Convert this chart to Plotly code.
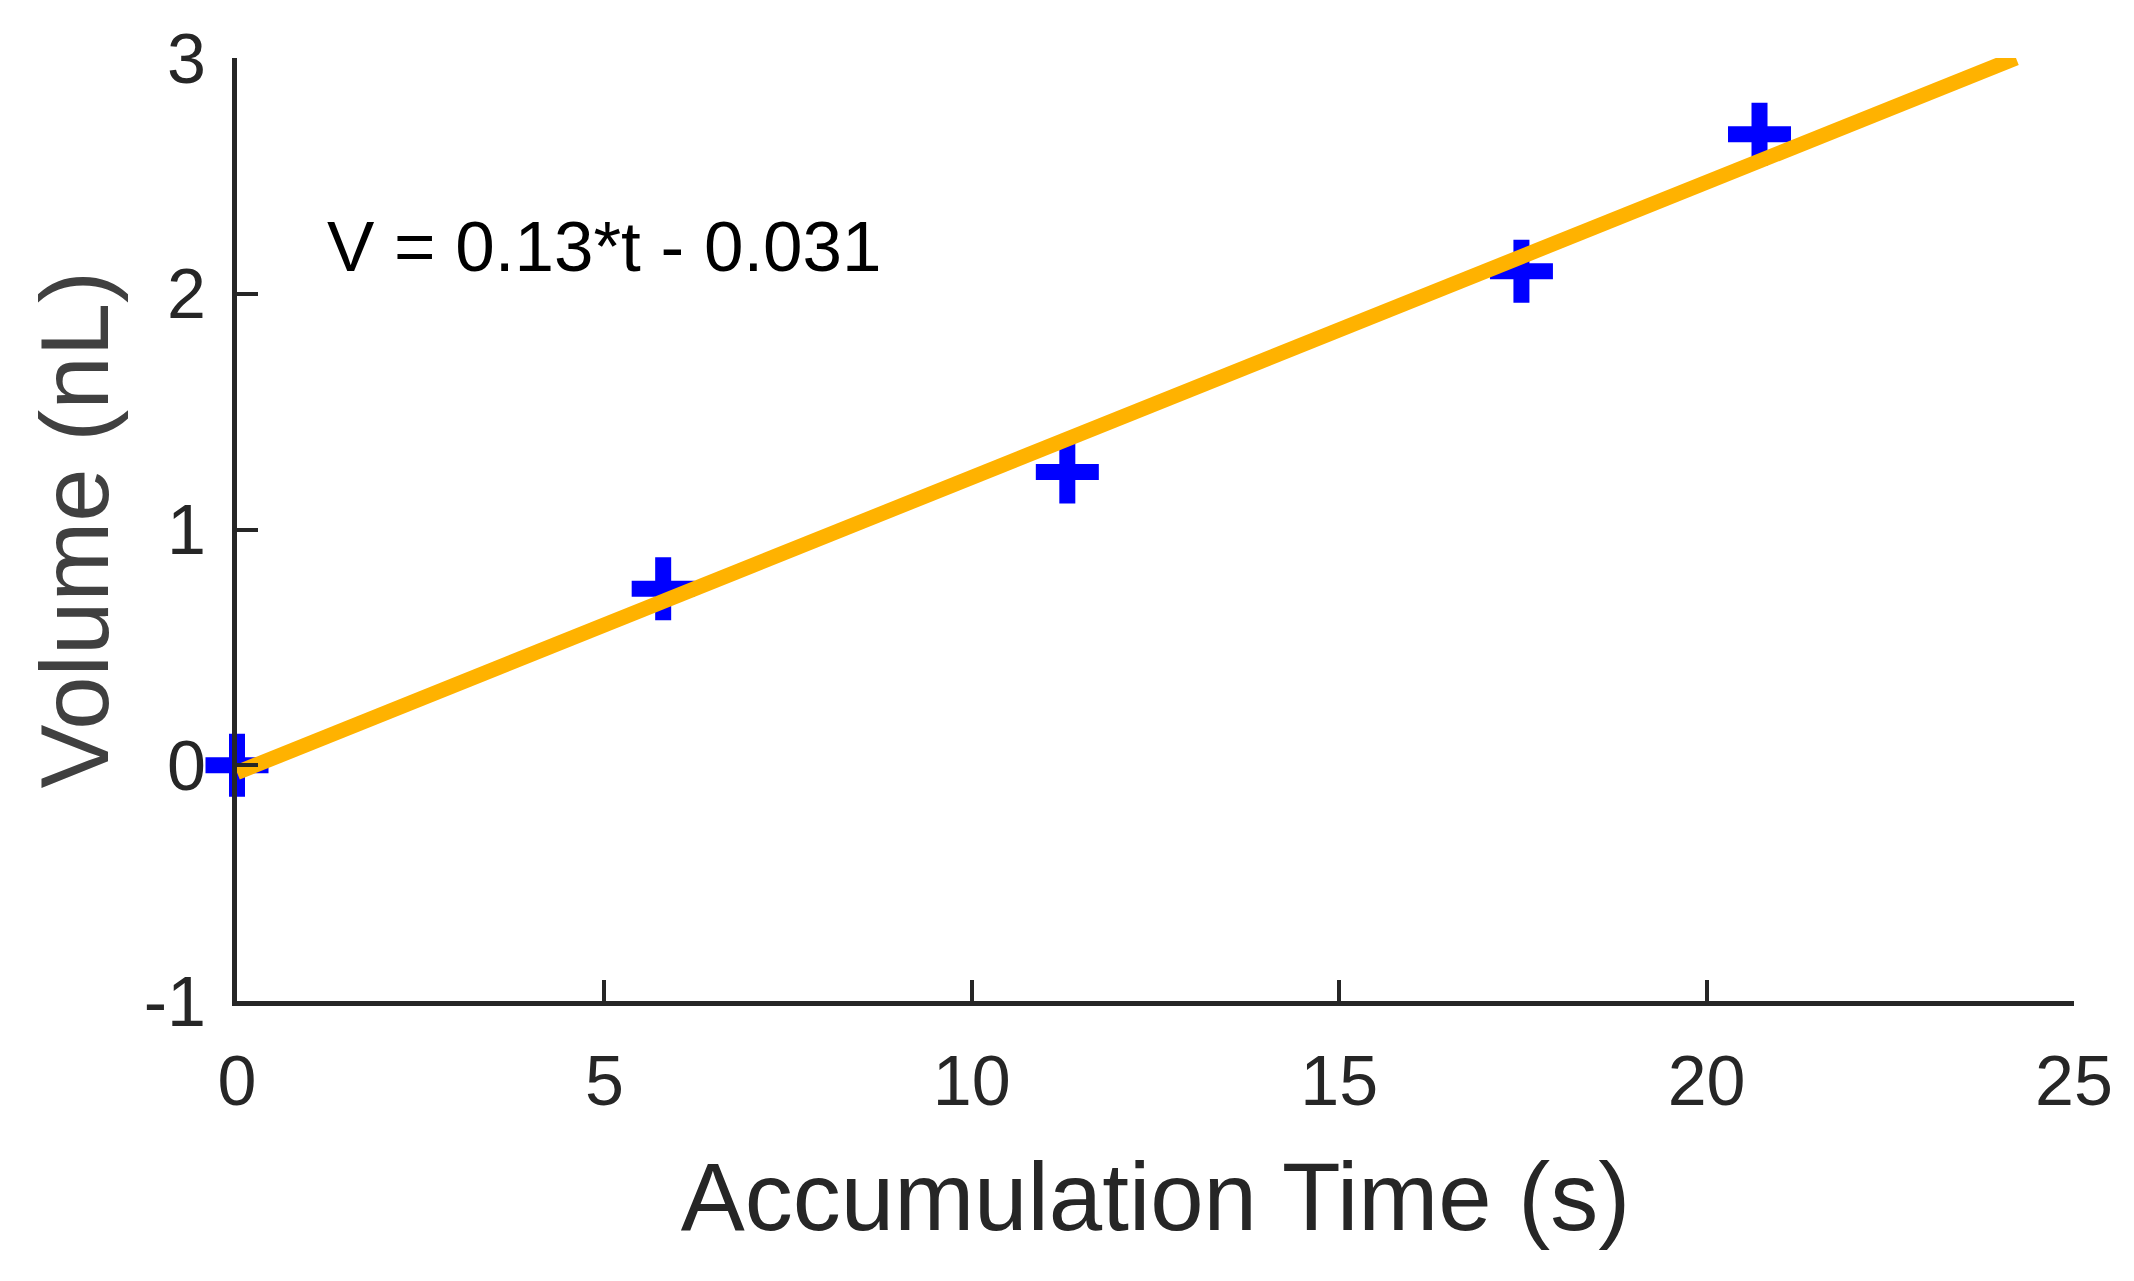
import plotly.graph_objects as go

# Data
time_s = [0.0, 5.80, 11.30, 17.48, 20.72]
volume_nl = [0.0, 0.749, 1.244, 2.095, 2.677]

# Fitted line endpoints (V = 0.13*t - 0.031)
fit_t = [0.0, 24.21]
fit_v = [-0.031, 3.0]

x_ticks = [0, 5, 10, 15, 20, 25]
y_ticks = [-1, 0, 1, 2, 3]

fit_label = "V = 0.13*t - 0.031"
x_title = "Accumulation Time (s)"
y_title = "Volume (nL)"

FONT = "Liberation Sans, Arial, Helvetica, sans-serif"
AX = "#262626"

fig = go.Figure()
fig.add_trace(go.Scatter(
    x=time_s, y=volume_nl, mode="markers",
    marker=dict(symbol="cross-thin", size=45, color="#0000FF",
                line=dict(color="#0000FF", width=16)),
    showlegend=False, cliponaxis=False,
))
fig.add_trace(go.Scatter(
    x=fit_t, y=fit_v, mode="lines",
    line=dict(color="#FFB200", width=15),
    showlegend=False, cliponaxis=False,
))

fig.add_annotation(
    x=1.2, y=2.2, xref="x", yref="y", text=fit_label, showarrow=False,
    xanchor="left", yanchor="middle",
    font=dict(family=FONT, size=71, color="#000000"),
)

# Y-axis title as a rotated annotation for exact placement
fig.add_annotation(
    x=-0.0887, y=0.5, xref="paper", yref="paper", text=y_title, showarrow=False,
    textangle=-90, xanchor="center", yanchor="middle",
    font=dict(family=FONT, size=96, color="#404040"),
)

fig.update_layout(
    width=2134, height=1281,
    margin=dict(l=229, r=68, t=50, b=288, pad=0),
    paper_bgcolor="white", plot_bgcolor="white",
    font=dict(family=FONT, color=AX),
)
fig.update_xaxes(
    range=[0, 25], tickvals=x_ticks, ticktext=[str(v) for v in x_ticks],
    showgrid=False, zeroline=False, showline=True, linewidth=5, linecolor=AX,
    ticks="inside", ticklen=21, tickwidth=4, tickcolor=AX,
    tickfont=dict(family=FONT, size=70, color=AX),
    ticklabelstandoff=15,
    title=dict(text=x_title, font=dict(family=FONT, size=96, color=AX), standoff=45),
)
fig.update_yaxes(
    range=[-1, 3], tickvals=y_ticks, ticktext=[str(v) for v in y_ticks],
    showgrid=False, zeroline=False, showline=True, linewidth=5, linecolor=AX,
    ticks="inside", ticklen=21, tickwidth=4, tickcolor=AX,
    tickfont=dict(family=FONT, size=70, color=AX),
    ticklabelstandoff=12,
)

fig.write_html("out.html")
